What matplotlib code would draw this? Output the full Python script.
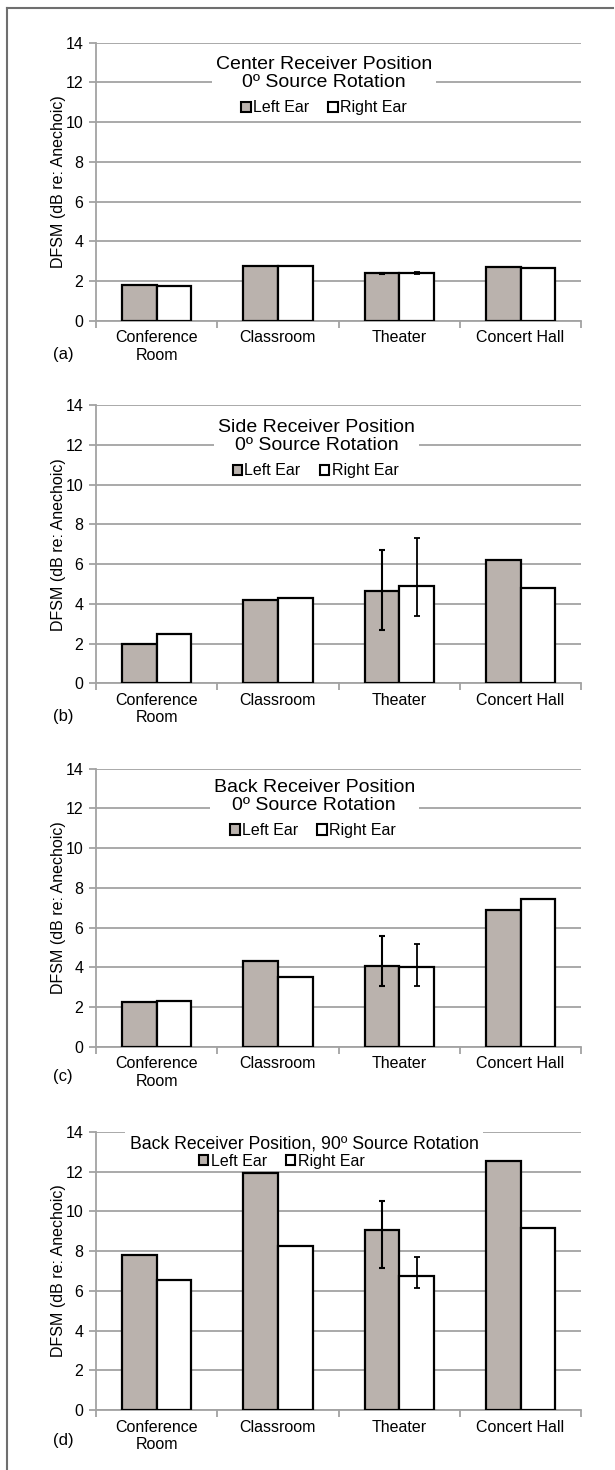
import matplotlib
matplotlib.use("Agg")
import matplotlib.pyplot as plt
import numpy as np
from matplotlib.patches import Patch
from matplotlib.lines import Line2D

plt.rcParams['font.family'] = ['Liberation Sans', 'DejaVu Sans']

categories = ["Conference\nRoom", "Classroom", "Theater", "Concert Hall"]
panel_tags = ["(a)", "(b)", "(c)", "(d)"]
titles = ["Center Receiver Position\n0º Source Rotation",
          "Side Receiver Position\n0º Source Rotation",
          "Back Receiver Position\n0º Source Rotation",
          "Back Receiver Position, 90º Source Rotation"]

left_a = [1.82, 2.76, 2.38, 2.72]
right_a = [1.75, 2.74, 2.41, 2.67]
left_b = [1.97, 4.18, 4.66, 6.23]
right_b = [2.49, 4.31, 4.88, 4.81]
left_c = [2.27, 4.30, 4.07, 6.90]
right_c = [2.32, 3.50, 4.01, 7.45]
left_d = [7.81, 11.95, 9.09, 12.52]
right_d = [6.56, 8.24, 6.73, 9.17]

# error bars (lower, upper); only the Theater has them
nan = np.nan
left_err_a = [[nan, nan, 0.05, nan], [nan, nan, 0.05, nan]]
right_err_a = [[nan, nan, 0.04, nan], [nan, nan, 0.04, nan]]
left_err_b = [[nan, nan, 2.00, nan], [nan, nan, 2.06, nan]]
right_err_b = [[nan, nan, 1.47, nan], [nan, nan, 2.45, nan]]
left_err_c = [[nan, nan, 1.04, nan], [nan, nan, 1.48, nan]]
right_err_c = [[nan, nan, 0.95, nan], [nan, nan, 1.17, nan]]
left_err_d = [[nan, nan, 1.94, nan], [nan, nan, 1.45, nan]]
right_err_d = [[nan, nan, 0.56, nan], [nan, nan, 1.00, nan]]

lefts = [left_a, left_b, left_c, left_d]
rights = [right_a, right_b, right_c, right_d]
lerrs = [left_err_a, left_err_b, left_err_c, left_err_d]
rerrs = [right_err_a, right_err_b, right_err_c, right_err_d]

LEFT_COLOR = '#bab2ad'
GRID = '#a3a3a3'

fig = plt.figure(figsize=(6.15, 14.70), dpi=100)
bottoms = [0.7818, 0.5352, 0.2880, 0.0408]
title_pos = [(1.38, 12.45), (1.32, 12.42), (1.30, 12.59), (1.215, 13.41)]
title_size = [14, 14, 14, 12.7]
legend_pos = [(1.38, 10.73), (1.31, 10.70), (1.29, 10.88), (1.03, 12.52)]
tag_y = [-0.123, -0.12, -0.108, -0.108]

x = np.arange(len(categories))
w = 0.2857

for i in range(4):
    ax = fig.add_axes([0.156, bottoms[i], 0.789, 0.1891])
    ax.set_xlim(-0.5, 3.5)
    ax.set_ylim(0, 14)
    ax.set_yticks(np.arange(0, 15, 2))
    ax.yaxis.grid(True, color=GRID, linewidth=1.3)
    ax.set_axisbelow(True)
    ax.bar(x - w / 2, lefts[i], w, color=LEFT_COLOR, edgecolor='black', linewidth=1.6, zorder=3)
    ax.bar(x + w / 2, rights[i], w, color='white', edgecolor='black', linewidth=1.6, zorder=3)
    ax.errorbar(x - w / 2, lefts[i], yerr=np.array(lerrs[i]), fmt='none', ecolor='black',
                elinewidth=1.5, capsize=2.5, capthick=1.5, zorder=4)
    ax.errorbar(x + w / 2, rights[i], yerr=np.array(rerrs[i]), fmt='none', ecolor='black',
                elinewidth=1.3, capsize=2.5, capthick=1.3, zorder=4)
    for s in ['top', 'right']:
        ax.spines[s].set_visible(False)
    for s in ['left', 'bottom']:
        ax.spines[s].set_color(GRID)
        ax.spines[s].set_linewidth(1.3)
    ax.set_xticks([-0.5, 0.5, 1.5, 2.5, 3.5])
    ax.set_xticklabels([])
    ax.set_xticks(x, minor=True)
    ax.set_xticklabels(categories, minor=True, fontsize=11.5)
    ax.tick_params(axis='x', which='major', length=5, color=GRID, width=1.3, direction='out')
    ax.tick_params(axis='x', which='minor', length=0, pad=7)
    ax.tick_params(axis='y', length=5, color=GRID, width=1.3, labelsize=11.5, pad=4)
    ax.set_ylabel("DFSM (dB re: Anechoic)", fontsize=11.5, labelpad=0)
    ax.text(-0.068, tag_y[i], panel_tags[i], transform=ax.transAxes, fontsize=12,
            ha='center', va='center')
    tx, ty = title_pos[i]
    ax.text(tx, ty, titles[i], ha='center', va='center', fontsize=title_size[i], linespacing=1.1,
            bbox=dict(facecolor='white', edgecolor='none', pad=3), zorder=5)
    handles = [Patch(facecolor=LEFT_COLOR, edgecolor='black', linewidth=1.5),
               Patch(facecolor='white', edgecolor='black', linewidth=1.5)]
    lx, ly = legend_pos[i]
    ax.legend(handles, ["Left Ear", "Right Ear"], ncol=2, frameon=False,
              loc='center', bbox_to_anchor=(lx, ly), bbox_transform=ax.transData,
              fontsize=11.5, handlelength=0.6, handleheight=0.6, handletextpad=0.15,
              columnspacing=1.2, borderpad=0, borderaxespad=0)

# outer frame (left and top edges)
fig.add_artist(Line2D([6.5 / 615, 6.5 / 615], [0, 1 - 8 / 1470], transform=fig.transFigure,
                      color='#6f6f6f', linewidth=1.5))
fig.add_artist(Line2D([6.5 / 615, 613 / 615], [1 - 8 / 1470, 1 - 8 / 1470],
                      transform=fig.transFigure, color='#6f6f6f', linewidth=1.5))

fig.savefig("out.png", dpi=100)
